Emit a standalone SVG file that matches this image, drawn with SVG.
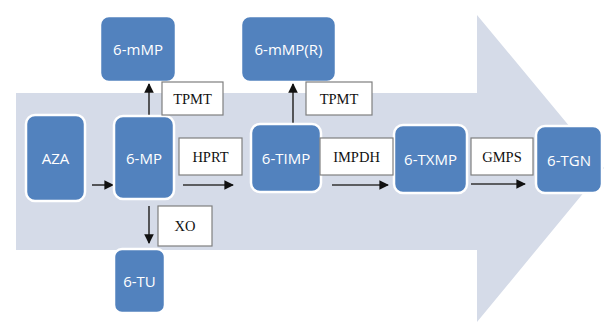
<svg xmlns="http://www.w3.org/2000/svg" width="604" height="322" viewBox="0 0 604 322">
<defs>
<style>
.node rect{fill:#5282be;stroke:#ffffff;stroke-width:2.5}
.node text{fill:#ffffff;font-family:"Open Sans","Liberation Sans",sans-serif;font-size:15px;text-anchor:middle;dominant-baseline:central}
.lbl rect{fill:#ffffff;stroke:#7f7f7f;stroke-width:1.2}
.lbl text{fill:#111111;font-family:"Liberation Serif",serif;font-size:14.5px;text-anchor:middle;dominant-baseline:central}
.conn line{stroke:#333333;stroke-width:1.6;fill:none;marker-end:url(#ah)}
</style>
<marker id="ah" viewBox="0 0 10 10" refX="9" refY="5" markerWidth="6" markerHeight="6" orient="auto" markerUnits="strokeWidth">
<path d="M0,0 L10,5 L0,10 z" fill="#111111"/>
</marker>
</defs>
<rect width="604" height="322" fill="#ffffff"/>
<polygon id="bigarrow" points="16,93 477,93 477,15 604,168 477,322 477,250 16,250" fill="#d5dbe8"/>
<g id="connectors" class="conn">
<line x1="92" y1="185" x2="113" y2="185"/>
<line x1="183" y1="185" x2="233" y2="185"/>
<line x1="332" y1="185" x2="388" y2="185"/>
<line x1="471" y1="184" x2="525" y2="184"/>
<line x1="149" y1="116" x2="149" y2="84"/>
<line x1="293" y1="124" x2="293" y2="84"/>
<line x1="149" y1="206" x2="149" y2="243"/>
</g>
<g id="n-6mMP" class="node"><rect x="100" y="16" width="76" height="66" rx="9"/><text x="138" y="49">6-mMP</text></g>
<g id="n-6mMPR" class="node"><rect x="241" y="16" width="95" height="66" rx="9"/><text x="288.5" y="49">6-mMP(R)</text></g>
<g id="n-AZA" class="node"><rect x="26" y="115" width="59" height="86" rx="9"/><text x="55.5" y="158">AZA</text></g>
<g id="n-6MP" class="node"><rect x="114" y="116" width="60" height="83" rx="9"/><text x="144" y="157.5">6-MP</text></g>
<g id="n-6TIMP" class="node"><rect x="251" y="124" width="70" height="68" rx="9"/><text x="286" y="158">6-TIMP</text></g>
<g id="n-6TXMP" class="node"><rect x="394" y="125" width="73" height="68" rx="9"/><text x="430.5" y="159">6-TXMP</text></g>
<g id="n-6TGN" class="node"><rect x="536" y="126" width="66" height="67" rx="9"/><text x="569" y="159.5">6-TGN</text></g>
<g id="n-6TU" class="node"><rect x="114" y="249" width="51" height="64" rx="8"/><text x="139.5" y="281">6-TU</text></g>
<g id="l-TPMT1" class="lbl"><rect x="162" y="82" width="61" height="33"/><text x="192.5" y="98.5">TPMT</text></g>
<g id="l-TPMT2" class="lbl"><rect x="306" y="82" width="66" height="33"/><text x="339" y="98.5">TPMT</text></g>
<g id="l-HPRT" class="lbl"><rect x="179" y="138" width="63" height="37"/><text x="210.5" y="156.5">HPRT</text></g>
<g id="l-IMPDH" class="lbl"><rect x="320" y="138" width="73" height="37"/><text x="356.5" y="156.5">IMPDH</text></g>
<g id="l-GMPS" class="lbl"><rect x="471" y="138" width="62" height="37"/><text x="502" y="156.5">GMPS</text></g>
<g id="l-XO" class="lbl"><rect x="158" y="206" width="54" height="40"/><text x="185" y="226">XO</text></g>
</svg>
